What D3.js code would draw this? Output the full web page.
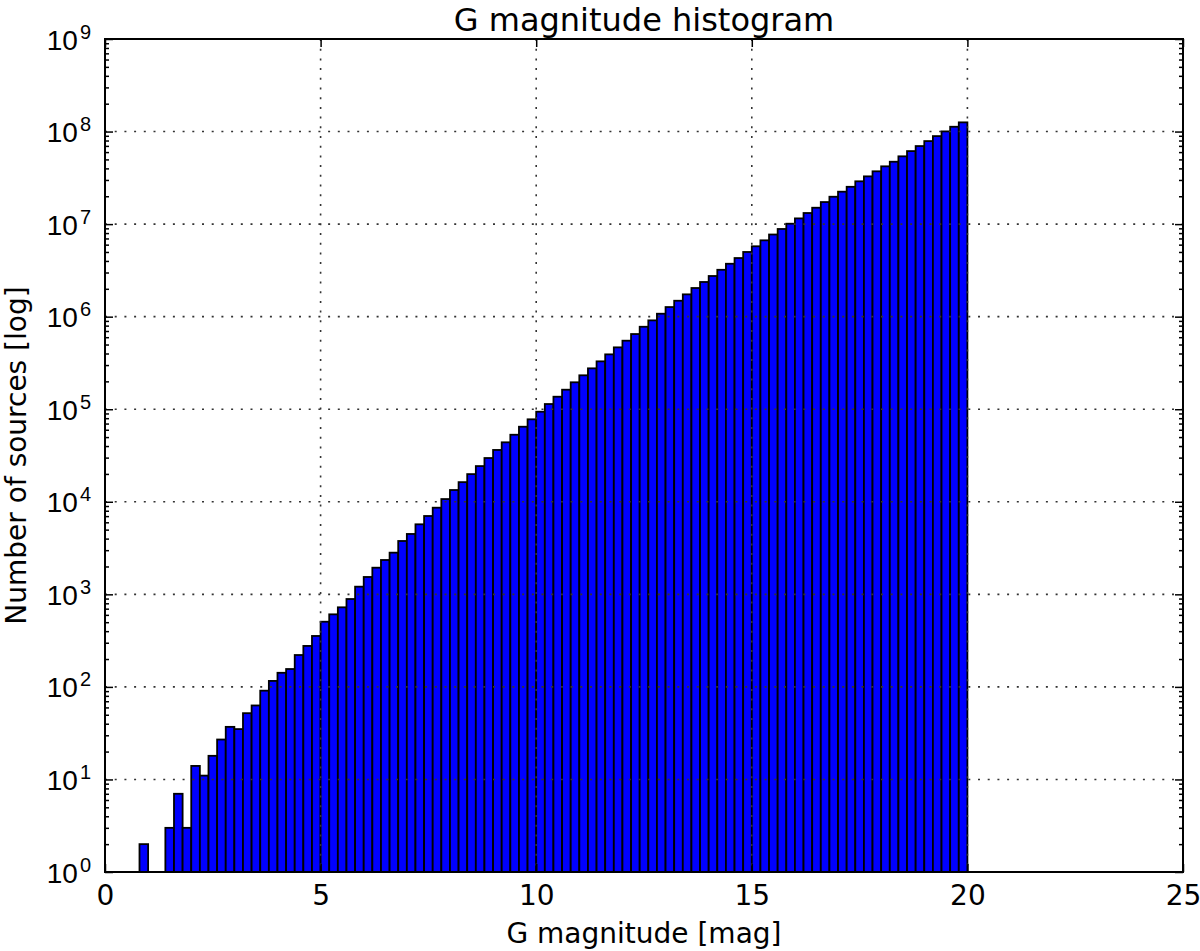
<!DOCTYPE html>
<html>
<head>
<meta charset="utf-8">
<script src="https://cdn.jsdelivr.net/npm/d3@7"></script>
<style>
  body { margin: 0; background: #fff; }
  svg { display: block; font-family: "DejaVu Sans", sans-serif; }
  .grid line { stroke: #333; stroke-width: 1.6; stroke-dasharray: 2, 7.7; }
  .axis path { display: none; }
  .axis line { stroke: #000; stroke-width: 1.5; }
</style>
</head>
<body>
<div id="chart"></div>
<script>
// histogram bins: lower edge of first bin and bin width [mag]
const binStart = 0.8;
const binWidth = 0.2;

// number of sources per bin
const counts = [
  2, 0, 0, 3, 7, 3, 14, 11, 18, 27,
  37, 35, 52, 63, 91, 116, 142, 156, 221, 277,
  355, 506, 608, 724, 890, 1210, 1540, 1940, 2350, 2820,
  3770, 4490, 5710, 7020, 8630, 10700, 13400, 16300, 19900, 24300,
  29700, 36300, 43900, 53000, 64700, 77800, 94000, 113800, 136500, 162500,
  195400, 232500, 276500, 329000, 391500, 466000, 550000, 649000, 778000, 912000,
  1076000, 1270000, 1486000, 1742000, 2040000, 2370000, 2750000, 3210000, 3730000, 4300000,
  5000000, 5760000, 6680000, 7720000, 8860000, 10100000, 11530000, 13180000, 15030000, 17310000,
  19760000, 22400000, 25300000, 29000000, 32800000, 37200000, 42100000, 47200000, 54000000, 61500000,
  69700000, 78900000, 89300000, 100400000, 112700000, 125700000
];

const xTicks = [0, 5, 10, 15, 20, 25];
const yExponents = [0, 1, 2, 3, 4, 5, 6, 7, 8, 9];

const titleText = "G magnitude histogram";
const xLabel = "G magnitude [mag]";
const yLabel = "Number of sources [log]";

const config = {
  containerWidth: 1200,
  containerHeight: 951,
  margin: { top: 39, right: 17, bottom: 79, left: 105 },
  fontSize: 28,
  labelSize: 28,
  titleSize: 32,
};

const width = config.containerWidth - config.margin.left - config.margin.right;
const height = config.containerHeight - config.margin.top - config.margin.bottom;

const svg = d3.select("#chart")
  .append("svg")
  .attr("width", config.containerWidth)
  .attr("height", config.containerHeight);

const chart = svg.append("g")
  .attr("transform", `translate(${config.margin.left},${config.margin.top})`);

const x = d3.scaleLinear().domain([0, 25]).range([0, width]);
const y = d3.scaleLog().domain([1, 1e9]).range([height, 0]);

const yMajor = yExponents.map((e) => Math.pow(10, e));
const yMinor = [];
yExponents.slice(0, -1).forEach((e) => {
  for (let m = 2; m <= 9; m++) yMinor.push(m * Math.pow(10, e));
});

// bars
const bins = counts
  .map((c, i) => ({ x0: binStart + i * binWidth, x1: binStart + (i + 1) * binWidth, count: c }))
  .filter((d) => d.count > 0);

chart.append("g")
  .selectAll("rect")
  .data(bins)
  .join("rect")
  .attr("x", (d) => x(d.x0))
  .attr("width", (d) => x(d.x1) - x(d.x0))
  .attr("y", (d) => y(d.count))
  .attr("height", (d) => y(1) - y(d.count))
  .attr("fill", "#0000ff")
  .attr("stroke", "#000")
  .attr("stroke-width", 1.8);

// dotted grid on top of bars
const grid = chart.append("g").attr("class", "grid");
grid.selectAll(".gx")
  .data(xTicks.slice(1, -1))
  .join("line")
  .attr("x1", (d) => x(d)).attr("x2", (d) => x(d))
  .attr("y1", 0).attr("y2", height);
grid.selectAll(".gy")
  .data(yMajor.slice(1, -1))
  .join("line")
  .attr("x1", 0).attr("x2", width)
  .attr("y1", (d) => y(d)).attr("y2", (d) => y(d));

// ticks (inward, on all four sides)
chart.append("g")
  .attr("class", "axis")
  .attr("transform", `translate(0,${height})`)
  .call(d3.axisBottom(x).tickValues(xTicks).tickSize(-8).tickPadding(13))
  .selectAll("text")
  .attr("font-size", config.fontSize)
  .attr("font-family", "DejaVu Sans")
  .attr("fill", "#000");

chart.append("g")
  .attr("class", "axis")
  .call(d3.axisTop(x).tickValues(xTicks).tickSize(-8).tickFormat(""));

const yAxisLeft = chart.append("g")
  .attr("class", "axis")
  .call(d3.axisLeft(y).tickValues(yMajor).tickSize(-8).tickFormat(""));

chart.append("g")
  .attr("class", "axis")
  .call(d3.axisLeft(y).tickValues(yMinor).tickSize(-4).tickFormat(""));

chart.append("g")
  .attr("class", "axis")
  .attr("transform", `translate(${width},0)`)
  .call(d3.axisRight(y).tickValues(yMajor).tickSize(-8).tickFormat(""));

chart.append("g")
  .attr("class", "axis")
  .attr("transform", `translate(${width},0)`)
  .call(d3.axisRight(y).tickValues(yMinor).tickSize(-4).tickFormat(""));

// y tick labels as 10^n
yAxisLeft.selectAll(".tick").each(function (d) {
  const t = d3.select(this).append("text")
    .attr("x", -14)
    .attr("y", 10)
    .attr("text-anchor", "end")
    .attr("fill", "#000")
    .attr("font-size", config.fontSize);
  t.append("tspan").text("10");
  t.append("tspan")
    .attr("font-size", 20)
    .attr("dx", 2)
    .attr("dy", -11)
    .text(Math.round(Math.log10(d)));
});

// frame
chart.append("rect")
  .attr("width", width)
  .attr("height", height)
  .attr("fill", "none")
  .attr("stroke", "#000")
  .attr("stroke-width", 2);

// title and axis labels
svg.append("text")
  .attr("x", config.margin.left + width / 2)
  .attr("y", 31)
  .attr("text-anchor", "middle")
  .attr("font-size", config.titleSize)
  .text(titleText);

svg.append("text")
  .attr("x", config.margin.left + width / 2)
  .attr("y", 943)
  .attr("text-anchor", "middle")
  .attr("font-size", config.labelSize)
  .text(xLabel);

svg.append("text")
  .attr("transform", `translate(26,${config.margin.top + height / 2}) rotate(-90)`)
  .attr("text-anchor", "middle")
  .attr("font-size", config.labelSize)
  .text(yLabel);
</script>
</body>
</html>
